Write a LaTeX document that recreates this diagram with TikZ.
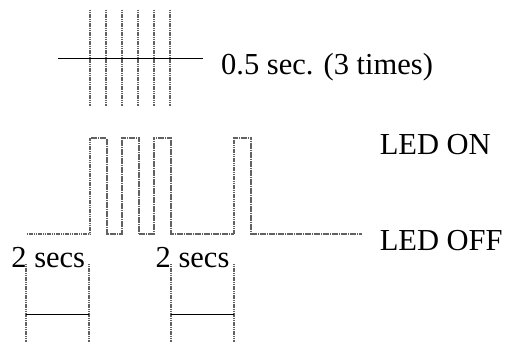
\documentclass[tikz,border=0pt]{standalone}
\usepackage{fontspec}
\setmainfont{Liberation Serif}
\begin{document}
\begin{tikzpicture}[x=1pt,y=-1pt,
  trace/.style={draw=black!62, line width=2pt, dash pattern=on 1.3pt off 0.5pt},
  rule/.style={draw=black, line width=1pt},
  lbl/.style={anchor=base west, inner sep=0pt, font=\fontsize{30.5}{36}\selectfont}]
\useasboundingbox (0,0) rectangle (507,342);

% blink period marker: six edge ticks crossed by a solid rule
\coordinate (ml) at (58,58.7);
\coordinate (mr) at (203,58.7);
\foreach \x [count=\i] in {90.3,106.3,122.3,138.3,154.3,170.3}
  \draw[trace] (\x,10) coordinate (tt\i) -- (\x,106) coordinate (tb\i);
\draw[rule] (ml) -- (mr);
\node[lbl] (period) at (221,74.5) {0.5 sec. (3 times)};

% LED waveform
\draw[trace] (26.7,234.5) -- (90.3,234.5) -- (90.3,138.3) -- (106.5,138.3) -- (106.5,234.5)
  -- (122.3,234.5) -- (122.3,138.3) -- (138.5,138.3) -- (138.5,234.5)
  -- (154.3,234.5) -- (154.3,138.3) -- (170.7,138.3) -- (170.7,234.5)
  -- (234.2,234.5) -- (234.2,138.3) -- (250.7,138.3) -- (250.7,234.5) -- (362,234.5);
\node[lbl] (on) at (379.6,155) {LED ON};
\node[lbl] (off) at (379.6,250.5) {LED OFF};

% two-second intervals
\foreach \a/\b [count=\k] in {26/89.3,170.7/234.3}{
  \draw[trace] (\a,264) coordinate (il\k) -- (\a,342);
  \draw[trace] (\b,264) coordinate (ir\k) -- (\b,342);
  \draw[rule] (\a,314.3) -- (\b,314.3);
}
\node[lbl] (s1) at (11.2,267.3) {2 secs};
\node[lbl] (s2) at (155.5,267.3) {2 secs};
\end{tikzpicture}
\end{document}
